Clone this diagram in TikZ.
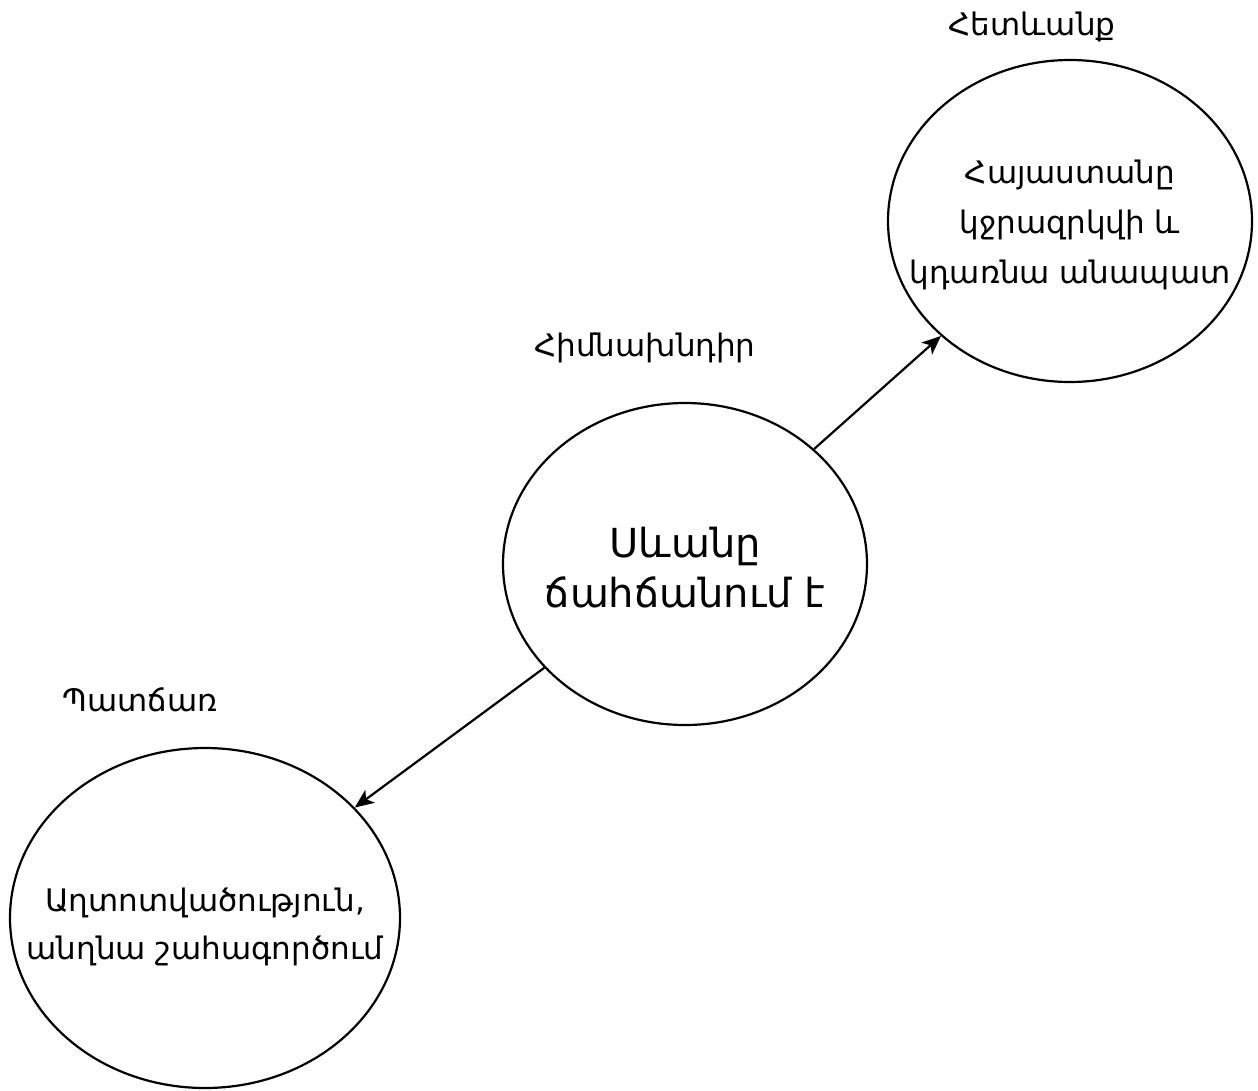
\documentclass[tikz,border=0pt]{standalone}
\usepackage{fontspec}
\setmainfont{DejaVu Sans}
\usetikzlibrary{arrows.meta,shapes.geometric}
\begin{document}
\begin{tikzpicture}[x=1pt,y=-1pt,
  bubble/.style={draw, ellipse, line width=2.2pt, inner sep=0pt},
  inside/.style={inner sep=0pt, align=center},
  caption/.style={font=\fontsize{31}{36}\selectfont, inner sep=0pt},
  link/.style={line width=2.2pt, -{Stealth[length=19pt,width=16pt,inset=5pt]}}]
\useasboundingbox (0,0) rectangle (1258,1090);
\node[bubble, minimum width=364pt, minimum height=322pt] (res) at (1070,221) {};
\node[bubble, minimum width=364pt, minimum height=322pt] (prob) at (685,564) {};
\node[bubble, minimum width=390pt, minimum height=340pt] (cause) at (205,918) {};
\node[inside, font=\fontsize{31}{50}\selectfont] (tres) at (1070,225)
  {Հայաստանը\\կջրազրկվի և\\կդառնա անապատ};
\node[inside, font=\fontsize{40}{50}\selectfont] (tprob) at (685,568)
  {Սևանը\\ճահճանում է};
\node[inside, font=\fontsize{31}{48}\selectfont] (tcause) at (205,927)
  {Աղտոտվածություն,\\անղնա շահագործում};
\node[caption] (lres) at (1032,27) {Հետևանք};
\node[caption] (lprob) at (645,348) {Հիմնախնդիր};
\node[caption] (lcause) at (140,700) {Պատճառ};
\draw[link] (prob) -- (res);
\draw[link] (prob) -- (cause);
\end{tikzpicture}
\end{document}
